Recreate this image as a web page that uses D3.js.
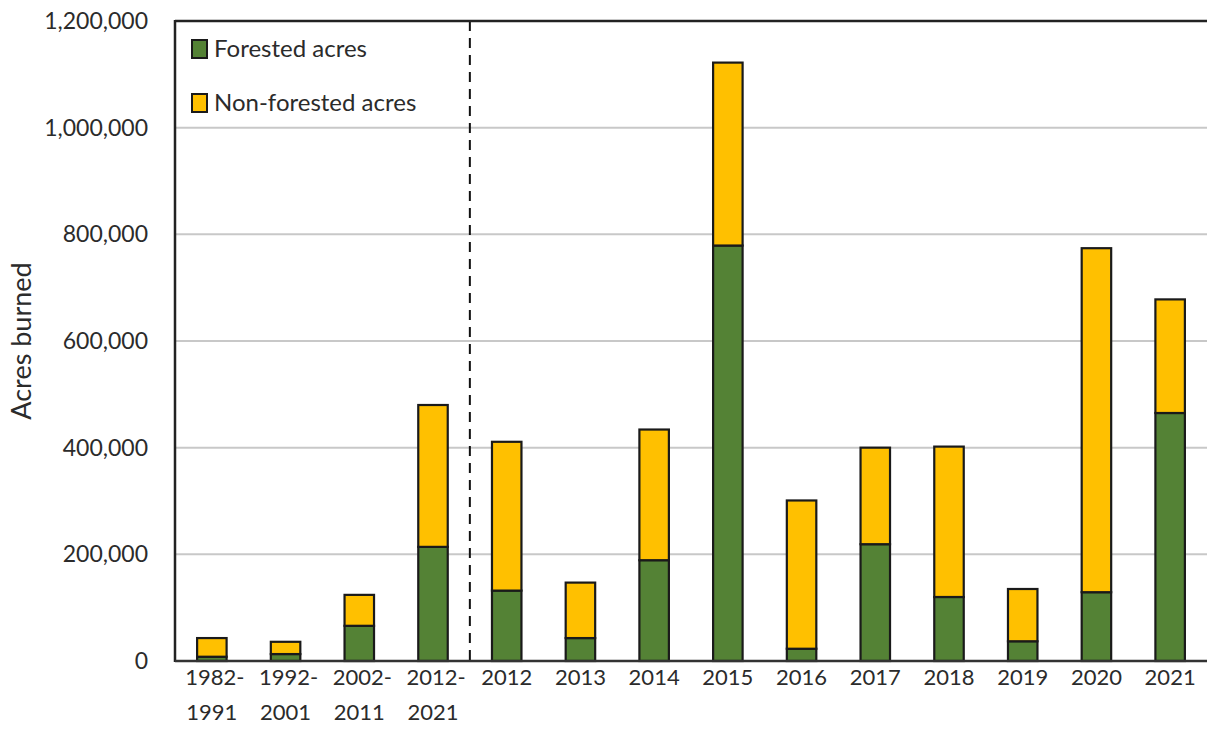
<!DOCTYPE html>
<html lang="en">
<head>
<meta charset="UTF-8">
<title>Acres burned</title>
<script src="https://d3js.org/d3.v7.min.js"></script>
<style>
    body { margin: 0; background: #fff; }
    svg { display: block; font-family: 'Lato', 'Open Sans', sans-serif; }
</style>
</head>
<body>
<svg id="chart" width="1207" height="755"></svg>
<script>
// data
const categories = ["1982-1991", "1992-2001", "2002-2011", "2012-2021",
    "2012", "2013", "2014", "2015", "2016", "2017", "2018", "2019", "2020", "2021"];
const forested = [8000, 13000, 66000, 214000, 132000, 43000, 189000, 779000, 23000, 219000, 120000, 37000, 129000, 465000];
const nonForested = [35000, 23000, 58000, 266000, 279000, 104000, 245000, 343000, 278000, 181000, 282000, 98000, 645000, 213000];
const yTicks = [0, 200000, 400000, 600000, 800000, 1000000, 1200000];
const seriesNames = ["Forested acres", "Non-forested acres"];
const colors = ["#548235", "#ffc000"];

const svg = d3.select("#chart");
const plotL = 175, plotR = 1207, plotT = 21, plotB = 661;

const x = d3.scaleBand().domain(categories).range([plotL, plotR]).paddingInner(0.6).paddingOuter(0.3);
const y = d3.scaleLinear().domain([0, 1200000]).range([plotB, plotT]);

// gridlines
svg.append("g").selectAll("line")
    .data(yTicks.filter(d => d > 0 && d < 1200000))
    .join("line")
    .attr("x1", plotL).attr("x2", plotR)
    .attr("y1", d => y(d)).attr("y2", d => y(d))
    .attr("stroke", "#c8c8c8").attr("stroke-width", 2);

// y tick labels
svg.append("g").selectAll("text")
    .data(yTicks)
    .join("text")
    .attr("x", 148).attr("y", d => y(d))
    .attr("dy", "0.35em")
    .attr("text-anchor", "end")
    .attr("font-size", 23)
    .attr("fill", "#2b2b2b")
    .text(d => d3.format(",")(d));

// y axis title
svg.append("text")
    .attr("transform", "translate(31,341) rotate(-90)")
    .attr("text-anchor", "middle")
    .attr("font-size", 27)
    .attr("fill", "#2b2b2b")
    .text("Acres burned");

// stacked bars
const rows = categories.map((c, i) => ({ cat: c, f: forested[i], n: nonForested[i] }));
const stack = d3.stack().keys(["f", "n"])(rows);

svg.append("g").selectAll("g")
    .data(stack)
    .join("g")
    .attr("fill", (d, i) => colors[i])
    .selectAll("rect")
    .data(d => d)
    .join("rect")
    .attr("x", d => x(d.data.cat))
    .attr("width", x.bandwidth())
    .attr("y", d => y(d[1]))
    .attr("height", d => y(d[0]) - y(d[1]))
    .attr("stroke", "#1a1a1a")
    .attr("stroke-width", 2.2);

// divider between decades and single years
const divX = (x("2012-2021") + x.bandwidth() + x("2012")) / 2;
svg.append("line")
    .attr("x1", divX).attr("x2", divX)
    .attr("y1", plotT).attr("y2", plotB)
    .attr("stroke", "#111").attr("stroke-width", 2)
    .attr("stroke-dasharray", "10,7");

// frame: left and top, plus baseline
svg.append("line").attr("x1", plotL).attr("x2", plotL).attr("y1", plotT - 1).attr("y2", plotB + 1)
    .attr("stroke", "#222").attr("stroke-width", 2.5);
svg.append("line").attr("x1", plotL).attr("x2", plotR).attr("y1", plotT).attr("y2", plotT)
    .attr("stroke", "#222").attr("stroke-width", 2.5);
svg.append("line").attr("x1", plotL).attr("x2", plotR).attr("y1", plotB).attr("y2", plotB)
    .attr("stroke", "#333").attr("stroke-width", 2.5);

// x labels (split at the dash for two lines)
const xl = svg.append("g").selectAll("text")
    .data(categories)
    .join("text")
    .attr("x", d => x(d) + x.bandwidth() / 2 + (d.includes("-") ? 3 : 0))
    .attr("y", 677)
    .attr("text-anchor", "middle")
    .attr("font-size", 22)
    .attr("fill", "#2b2b2b");
xl.each(function(d) {
    const parts = d.split("-");
    const t = d3.select(this);
    if (parts.length === 2) {
        t.append("tspan").attr("x", t.attr("x")).attr("dy", "0.35em").text(parts[0] + "-");
        t.append("tspan").attr("x", +t.attr("x") - 3).attr("dy", "1.6em").text(parts[1]);
    } else {
        t.append("tspan").attr("dy", "0.35em").text(d);
    }
});

// legend
const lg = svg.append("g").selectAll("g")
    .data(seriesNames)
    .join("g")
    .attr("transform", (d, i) => `translate(192,${40 + i * 54})`);
lg.append("rect")
    .attr("width", 15).attr("height", 18)
    .attr("fill", (d, i) => colors[i])
    .attr("stroke", "#1a1a1a").attr("stroke-width", 2);
lg.append("text")
    .attr("x", 22).attr("y", 9).attr("dy", "0.35em")
    .attr("font-size", 24)
    .attr("fill", "#2b2b2b")
    .text(d => d);
</script>
</body>
</html>
